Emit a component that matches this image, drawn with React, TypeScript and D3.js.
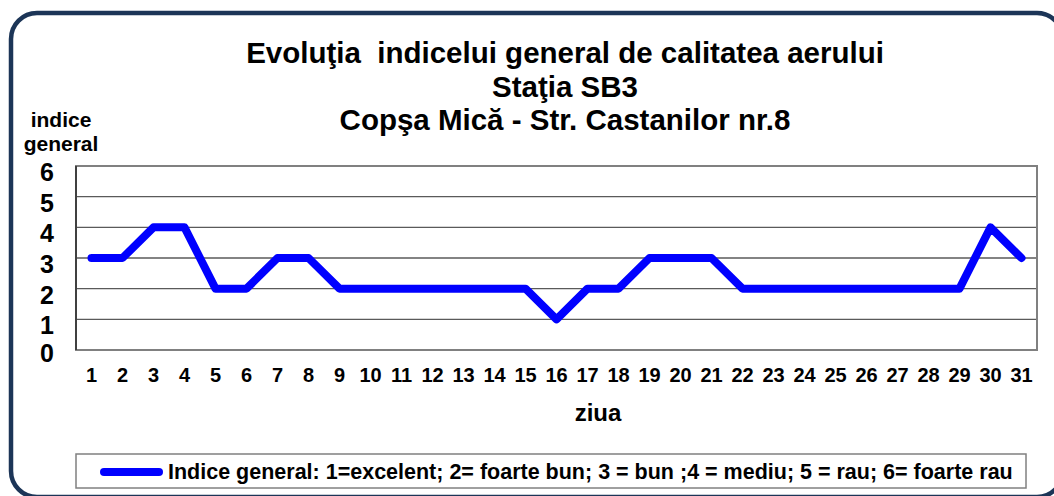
import * as d3 from "d3";

// values
const days: string[] = d3.range(1, 32).map(String);
const indice: number[] = [3, 3, 4, 4, 2, 2, 3, 3, 2, 2, 2, 2, 2, 2, 2, 1, 2, 2, 3, 3, 3, 2, 2, 2, 2, 2, 2, 2, 2, 4, 3];
const yTicks: number[] = [0, 1, 2, 3, 4, 5, 6];
const titleLines: string[] = [
  "Evoluţia  indicelui general de calitatea aerului",
  "Staţia SB3",
  "Copşa Mică - Str. Castanilor nr.8",
];
const legendLabel = "Indice general: 1=excelent; 2= foarte bun; 3 = bun ;4 = mediu; 5 = rau; 6= foarte rau";

const W = 1054;
const H = 496;
const plot = { left: 76, right: 1037, top: 166, bottom: 350 };
const font = "'Liberation Sans', Arial, sans-serif";

export default function App() {
  const x = d3.scaleBand().domain(days).range([plot.left, plot.right]).padding(0);
  const y = d3.scaleLinear().domain([0, 6]).range([plot.bottom, plot.top]);
  const cx = (d: string) => (x(d) as number) + x.bandwidth() / 2;

  const line = d3
    .line<number>()
    .x((_, i) => cx(days[i]))
    .y((d) => y(d));

  // excel squeezes the 0 label up against the axis
  const yLabelPos = (t: number) => (t === 0 ? y(t) + 3 : y(t) + 6);

  return (
    <svg
      width={W}
      height={H}
      style={{ position: "absolute", left: 0, top: 0, display: "block" }}
      fontFamily={font}
      fontWeight="bold"
    >
      <rect x={0} y={0} width={W} height={H} fill="#fff" />
      {/* outer frame */}
      <rect x={11} y={13} width={1052} height={484} rx={26} ry={26} fill="none" stroke="#1c3557" strokeWidth={4.5} />

      {titleLines.map((t, i) => (
        <text key={t} x={565} y={63 + i * 33.5} textAnchor="middle" fontSize={29.5} fill="#000" style={{ whiteSpace: "pre" }}>
          {t}
        </text>
      ))}

      <text x={61} y={127} textAnchor="middle" fontSize={21}>indice</text>
      <text x={61} y={151} textAnchor="middle" fontSize={21}>general</text>

      {/* gridlines */}
      {yTicks.map((t) => (
        <line key={t} x1={plot.left} x2={plot.right} y1={y(t)} y2={y(t)} stroke="#5a5a5a" strokeWidth={1.3} />
      ))}
      <rect
        x={plot.left}
        y={plot.top}
        width={plot.right - plot.left}
        height={plot.bottom - plot.top}
        fill="none"
        stroke="#808080"
        strokeWidth={2}
      />
      <line x1={plot.left} x2={plot.left} y1={plot.top} y2={plot.bottom} stroke="#404040" strokeWidth={2} />

      {yTicks.map((t) => (
        <text key={t} x={47} y={yLabelPos(t)} textAnchor="middle" dominantBaseline="central" fontSize={25}>
          {t}
        </text>
      ))}

      {days.map((d) => (
        <text key={d} x={cx(d)} y={382} textAnchor="middle" fontSize={20}>
          {d}
        </text>
      ))}

      <text x={598} y={421} textAnchor="middle" fontSize={24}>ziua</text>

      <path d={line(indice) ?? ""} fill="none" stroke="#0000ff" strokeWidth={8} strokeLinejoin="round" strokeLinecap="round" />

      {/* legend */}
      <rect x={76} y={454} width={950} height={34} fill="#fff" stroke="#808080" strokeWidth={1.5} />
      <line x1={104} x2={159} y1={472} y2={472} stroke="#0000ff" strokeWidth={8} strokeLinecap="round" />
      <text x={168} y={479} fontSize={21.5}>{legendLabel}</text>
    </svg>
  );
}
